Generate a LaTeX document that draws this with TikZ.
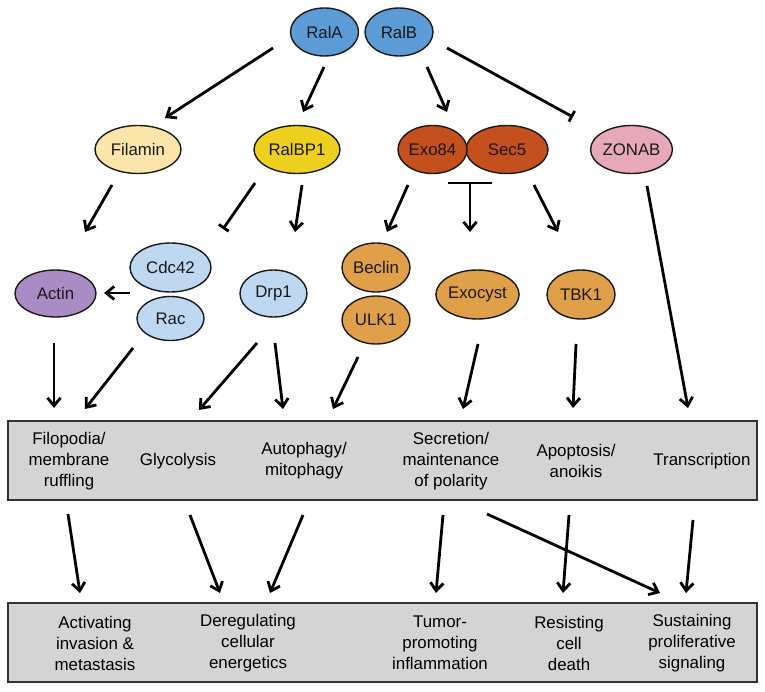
\documentclass[tikz,border=0pt]{standalone}
\usepackage{fontspec}
\setmainfont{Liberation Sans}
\usetikzlibrary{arrows.meta,shapes.geometric}
\definecolor{ralblue}{RGB}{91,155,214}
\definecolor{filamincol}{RGB}{251,229,170}
\definecolor{ralbpcol}{RGB}{238,209,32}
\definecolor{exocol}{RGB}{196,80,30}
\definecolor{zonabcol}{RGB}{231,168,185}
\definecolor{actincol}{RGB}{170,140,197}
\definecolor{lightblue}{RGB}{189,216,240}
\definecolor{orangecol}{RGB}{224,160,74}
\definecolor{boxgray}{RGB}{212,212,212}
\definecolor{boxline}{RGB}{50,50,50}
\begin{document}
\begin{tikzpicture}[x=1pt,y=-1pt,
  ell/.style={ellipse,draw=black!90,line width=1.4pt,inner sep=0pt,minimum height=48pt,
    font=\fontsize{16.8}{20}\selectfont,text=black!90},
  bigbox/.style={draw=boxline,line width=2pt,fill=boxgray,minimum width=749pt,minimum height=79pt,inner sep=0pt},
  lbl/.style={align=center,font=\fontsize{16.9}{21}\selectfont,inner sep=0pt},
  arr/.style={line width=2.8pt,-{Straight Barb[length=8pt,width=13pt]}},
  inh/.style={line width=2.8pt,-{Bar[width=12pt]}},
  plain/.style={line width=2.8pt}
]
\useasboundingbox (0,0) rectangle (765,692);

% top row
\node[ell,fill=ralblue,minimum width=68pt] (rala) at (324.5,32) {RalA};
\node[ell,fill=ralblue,minimum width=68pt] (ralb) at (399,32) {RalB};

% second row
\node[ell,fill=filamincol,minimum width=86pt] (filamin) at (138,149.5) {Filamin};
\node[ell,fill=ralbpcol,minimum width=86pt] (ralbp1) at (297,149.5) {RalBP1};
\node[ell,fill=exocol,minimum width=82pt] (sec5) at (507,149.5) {Sec5};
\node[ell,fill=exocol,minimum width=69pt] (exo84) at (432.5,149.5) {Exo84};
\node[ell,fill=zonabcol,minimum width=81pt] (zonab) at (631.5,149.5) {ZONAB};

% third row
\node[ell,fill=actincol,minimum width=81pt,minimum height=47pt] (actin) at (55.5,293.5) {Actin};
\node[ell,fill=lightblue,minimum width=81pt,minimum height=49pt] (cdc42) at (170.5,267.5) {Cdc42};
\node[ell,fill=lightblue,minimum width=67pt,minimum height=44pt] (rac) at (170.5,318.5) {Rac};
\node[ell,fill=lightblue,minimum width=67pt,minimum height=47pt] (drp1) at (273.5,293.5) {Drp1};
\node[ell,fill=orangecol,minimum width=68pt,minimum height=49pt] (beclin) at (376,267.5) {Beclin};
\node[ell,fill=orangecol,minimum width=68pt,minimum height=48pt] (ulk1) at (376,320) {ULK1};
\node[ell,fill=orangecol,minimum width=79pt,minimum height=49pt] (exocyst) at (477.5,294.5) {Exocyst};
\node[ell,fill=orangecol,minimum width=68pt,minimum height=49pt] (tbk1) at (581,294.5) {TBK1};

% boxes
\node[bigbox] (box1) at (382.5,460.5) {};
\node[bigbox] (box2) at (382.5,642.5) {};

\node[lbl] (filo) at (69,461) {Filopodia/\\membrane\\ruffling};
\node[lbl] (glyc) at (178,461) {Glycolysis};
\node[lbl] (auto) at (304,461) {Autophagy/\\mitophagy};
\node[lbl] (secr) at (451,461) {Secretion/\\maintenance\\of polarity};
\node[lbl] (apop) at (576,461) {Apoptosis/\\anoikis};
\node[lbl] (trans) at (702,461) {Transcription};

\node[lbl] (actv) at (95,643) {Activating\\invasion \&\\metastasis};
\node[lbl] (dereg) at (248,643) {Deregulating\\cellular\\energetics};
\node[lbl] (tumor) at (440,643) {Tumor-\\promoting\\inflammation};
\node[lbl] (resist) at (569,643) {Resisting\\cell\\death};
\node[lbl] (sustain) at (692,643) {Sustaining\\proliferative\\signaling};

% connector end points
\coordinate (a1s) at (273,48);  \coordinate (a1e) at (165,118);
\coordinate (a2s) at (324,67);  \coordinate (a2e) at (303,112);
\coordinate (a3s) at (427,67);  \coordinate (a3e) at (447,112);
\coordinate (a4s) at (447,48);  \coordinate (a4e) at (573,117);
\coordinate (a5s) at (112,185); \coordinate (a5e) at (85,232);
\coordinate (a6s) at (255,183); \coordinate (a6e) at (223,229);
\coordinate (a7s) at (302,185); \coordinate (a7e) at (295,232);
\coordinate (a8s) at (408,185); \coordinate (a8e) at (387,232);
\coordinate (tl) at (448,183);  \coordinate (tr) at (492,183);
\coordinate (tm) at (470,183);  \coordinate (a9e) at (470,232);
\coordinate (a10s) at (534,185); \coordinate (a10e) at (558,232);
\coordinate (a11s) at (647,186); \coordinate (a11e) at (688,408);
\coordinate (a12s) at (130,293); \coordinate (a12e) at (104,293);
\coordinate (a13s) at (54,343);  \coordinate (a13e) at (54,408);
\coordinate (a14s) at (133,348); \coordinate (a14e) at (85,409);
\coordinate (a15s) at (257,343); \coordinate (a15e) at (199,410);
\coordinate (a16s) at (275,343); \coordinate (a16e) at (283,409);
\coordinate (a17s) at (358,357); \coordinate (a17e) at (333,409);
\coordinate (a18s) at (478,344); \coordinate (a18e) at (463,409);
\coordinate (a19s) at (576,344); \coordinate (a19e) at (573,408);
\coordinate (b1s) at (68,514);  \coordinate (b1e) at (80,593);
\coordinate (b2s) at (190,515); \coordinate (b2e) at (220,593);
\coordinate (b3s) at (303,515); \coordinate (b3e) at (270,593);
\coordinate (b4s) at (443,515); \coordinate (b4e) at (436,593);
\coordinate (b5s) at (487,514); \coordinate (b5e) at (660,593);
\coordinate (b6s) at (569,515); \coordinate (b6e) at (563,593);
\coordinate (b7s) at (693,520); \coordinate (b7e) at (686,593);

\draw[arr] (a1s) -- (a1e);
\draw[arr] (a2s) -- (a2e);
\draw[arr] (a3s) -- (a3e);
\draw[inh] (a4s) -- (a4e);
\draw[arr] (a5s) -- (a5e);
\draw[inh] (a6s) -- (a6e);
\draw[arr] (a7s) -- (a7e);
\draw[arr] (a8s) -- (a8e);
\draw[plain] (tl) -- (tr);
\draw[arr] (tm) -- (a9e);
\draw[arr] (a10s) -- (a10e);
\draw[arr] (a11s) -- (a11e);
\draw[arr] (a12s) -- (a12e);
\draw[arr] (a13s) -- (a13e);
\draw[arr] (a14s) -- (a14e);
\draw[arr] (a15s) -- (a15e);
\draw[arr] (a16s) -- (a16e);
\draw[arr] (a17s) -- (a17e);
\draw[arr] (a18s) -- (a18e);
\draw[arr] (a19s) -- (a19e);
\draw[arr] (b1s) -- (b1e);
\draw[arr] (b2s) -- (b2e);
\draw[arr] (b3s) -- (b3e);
\draw[arr] (b4s) -- (b4e);
\draw[arr] (b5s) -- (b5e);
\draw[arr] (b6s) -- (b6e);
\draw[arr] (b7s) -- (b7e);
\end{tikzpicture}
\end{document}
